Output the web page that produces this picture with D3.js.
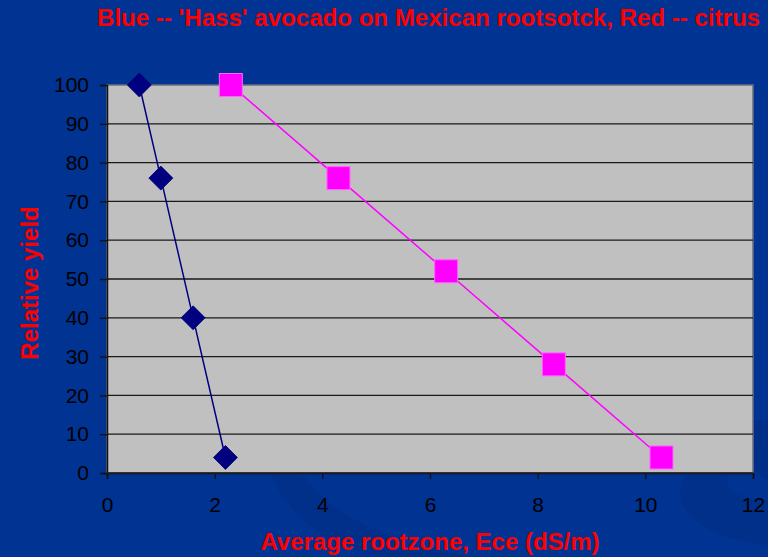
<!DOCTYPE html>
<html><head><meta charset="utf-8">
<script src="https://cdn.jsdelivr.net/npm/d3@7"></script>
<style>html,body{margin:0;padding:0;background:#003392;}svg{display:block;}</style>
</head><body>
<script>
const avocadoEce = [0.6, 1.0, 1.6, 2.2];
const avocadoYield = [100, 76, 40, 4];
const citrusEce = [2.3, 4.3, 6.3, 8.3, 10.3];
const citrusYield = [100, 76, 52, 28, 4];
const xTicks = [0, 2, 4, 6, 8, 10, 12];
const yTicks = [0, 10, 20, 30, 40, 50, 60, 70, 80, 90, 100];
const titleText = "Blue -- 'Hass' avocado on Mexican rootsotck, Red -- citrus";
const xTitle = "Average rootzone, Ece (dS/m)";
const yTitle = "Relative yield";

const W = 768, H = 557;
const m = {left: 107, top: 85, right: 768 - 753, bottom: 557 - 473};
const svg = d3.select("body").append("svg").attr("width", W).attr("height", H);
const FONT = "Liberation Sans, Arial, sans-serif";

// background
svg.append("rect").attr("width", W).attr("height", H).attr("fill", "#003392");
const deco = svg.append("g").attr("fill", "none");
deco.append("path").attr("d", "M268,470 C300,540 360,560 420,557 L470,557 C400,545 330,520 300,470 Z").attr("fill", "#002f88").attr("opacity", 0.8);
deco.append("path").attr("d", "M690,473 C660,500 700,540 768,545 L768,500 C740,500 720,490 730,473 Z").attr("fill", "#002f88").attr("opacity", 0.8);
deco.append("path").attr("d", "M753,420 C740,440 745,470 768,480 L768,420 Z").attr("fill", "#002e86").attr("opacity", 0.7);

const x = d3.scaleLinear().domain([0, 12]).range([m.left, W - m.right]);
const y = d3.scaleLinear().domain([0, 100]).range([H - m.bottom, m.top]);

// plot area
svg.append("rect").attr("x", x(0)).attr("y", y(100)).attr("width", x(12) - x(0)).attr("height", y(0) - y(100))
  .attr("fill", "#c0c0c0").attr("stroke", "#6a6f80").attr("stroke-width", 1.5);

// gridlines
svg.append("g").selectAll("line").data(yTicks.filter(d => d > 0 && d < 100)).join("line")
  .attr("x1", x(0)).attr("x2", x(12)).attr("y1", d => y(d)).attr("y2", d => y(d))
  .attr("stroke", "#1a1a1a").attr("stroke-width", 1.3);

// axes
const yAxis = svg.append("g").attr("transform", `translate(${x(0)},0)`)
  .call(d3.axisLeft(y).tickValues(yTicks).tickSize(7).tickPadding(11).tickFormat(d3.format("d")));
const xAxis = svg.append("g").attr("transform", `translate(0,${y(0)})`)
  .call(d3.axisBottom(x).tickValues(xTicks).tickSize(6).tickPadding(18).tickFormat(d3.format("d")));
[yAxis, xAxis].forEach(a => {
  a.attr("font-size", 21).attr("font-family", FONT);
  a.select(".domain").attr("stroke", "#111").attr("stroke-width", 1.5);
  a.selectAll(".tick line").attr("stroke", "#111").attr("stroke-width", 1.3);
  a.selectAll("text").attr("fill", "#000");
});
svg.append("line").attr("x1", x(0)).attr("x2", x(12)).attr("y1", y(0)).attr("y2", y(0)).attr("stroke", "#222").attr("stroke-width", 1.5);

// lines
const line = d3.line().x(d => x(d[0])).y(d => y(d[1]));
const avo = avocadoEce.map((v, i) => [v, avocadoYield[i]]);
const cit = citrusEce.map((v, i) => [v, citrusYield[i]]);
svg.append("path").datum(avo).attr("d", line).attr("fill", "none").attr("stroke", "#000080").attr("stroke-width", 1.5);
svg.append("path").datum(cit).attr("d", line).attr("fill", "none").attr("stroke", "#ff00ff").attr("stroke-width", 1.5);

// markers
const ds = 12;
svg.append("g").selectAll("path").data(avo).join("path")
  .attr("d", d => `M${x(d[0])},${y(d[1]) - ds} L${x(d[0]) + ds},${y(d[1])} L${x(d[0])},${y(d[1]) + ds} L${x(d[0]) - ds},${y(d[1])} Z`)
  .attr("fill", "#000080").attr("stroke", "#000070").attr("stroke-width", 0.8);
const ss = 23;
svg.append("g").selectAll("rect").data(cit).join("rect")
  .attr("x", d => x(d[0]) - ss / 2).attr("y", d => y(d[1]) - ss / 2).attr("width", ss).attr("height", ss)
  .attr("fill", "#ff00ff").attr("stroke", "#ff66ff").attr("stroke-width", 1);

// titles
svg.append("text").attr("x", 760).attr("y", 26).attr("text-anchor", "end")
  .attr("fill", "#ff0000").attr("font-family", FONT).attr("font-weight", "bold").attr("font-size", 24)
  .attr("textLength", 663).attr("lengthAdjust", "spacingAndGlyphs").text(titleText);
svg.append("text").attr("x", 430).attr("y", 550).attr("text-anchor", "middle")
  .attr("fill", "#ff0000").attr("font-family", FONT).attr("font-weight", "bold").attr("font-size", 24)
  .text(xTitle);
svg.append("text").attr("transform", "translate(38,283) rotate(-90)").attr("text-anchor", "middle")
  .attr("fill", "#ff0000").attr("font-family", FONT).attr("font-weight", "bold").attr("font-size", 24)
  .text(yTitle);
</script>
</body></html>
